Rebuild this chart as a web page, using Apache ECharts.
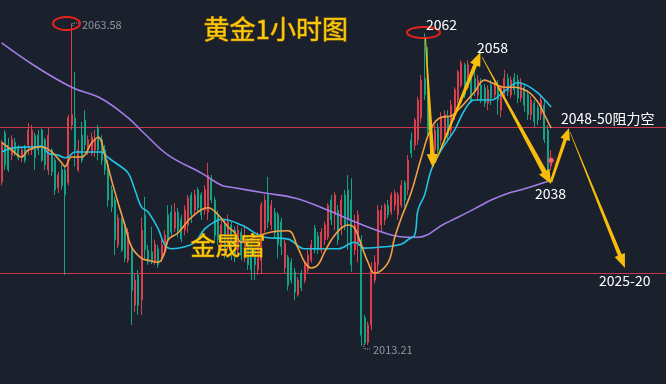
<!DOCTYPE html>
<html><head><meta charset="utf-8">
<script src="https://cdn.jsdelivr.net/npm/echarts@6/dist/echarts.min.js"></script>
<style>html,body{margin:0;padding:0;background:#1b202d;}#c{width:666px;height:384px;}</style>
</head><body><div id="c"></div>
<script>
// ---- data ----
const slotCount = 200;               // hourly slots (incl. empty future area)
const categories = Array.from({length: slotCount}, (_, i) => 'H' + i);
// [open, close, low, high]
const candles = [
[2038.8,2044.9,2038.3,2045.4],[2046.5,2041.5,2040.7,2046.9],[2044.6,2040.7,2040.4,2045.7],[2043.0,2045.4,2042.2,2046.1],
[2045.0,2043.5,2042.9,2045.7],[2044.1,2042.6,2042.2,2044.6],[2042.6,2043.8,2041.9,2044.3],[2044.1,2042.2,2041.8,2044.6],
[2044.6,2046.9,2043.0,2048.0],[2043.8,2046.9,2043.0,2047.7],[2046.1,2042.6,2040.7,2046.5],[2046.1,2043.8,2043.0,2046.9],
[2046.9,2042.2,2041.9,2047.2],[2045.4,2041.5,2040.7,2045.7],[2040.7,2046.1,2039.9,2047.2],[2043.8,2040.4,2039.7,2044.1],
[2042.2,2037.6,2036.8,2042.6],[2037.9,2039.9,2037.1,2040.4],[2040.7,2038.3,2037.6,2041.5],[2040.7,2036.8,2024.3,2041.5],
[2038.7,2048.9,2038.3,2049.3],[2047.7,2049.3,2046.9,2063.58],[2048.8,2043.8,2041.2,2056.0],[2040.7,2043.8,2040.4,2045.4],
[2046.1,2042.2,2041.8,2048.2],[2048.5,2044.6,2043.8,2050.0],[2043.8,2045.4,2043.0,2046.1],[2043.3,2045.8,2042.9,2046.5],
[2043.8,2045.4,2042.7,2046.9],[2047.2,2043.8,2042.2,2047.7],[2045.4,2042.2,2041.5,2046.1],[2043.8,2040.7,2039.9,2044.6],
[2041.5,2036.0,2034.9,2042.2],[2037.6,2034.9,2034.1,2038.3],[2036.0,2029.8,2027.4,2036.5],[2029.0,2033.2,2028.5,2033.7],
[2032.9,2028.2,2027.9,2033.2],[2032.1,2026.9,2026.3,2032.6],[2026.6,2031.0,2026.2,2031.6],[2028.2,2021.9,2016.5,2029.0],
[2019.6,2023.5,2018.5,2024.5],[2024.3,2019.6,2018.1,2025.1],[2020.4,2031.3,2018.1,2033.3],[2033.7,2028.2,2026.8,2036.5],
[2028.2,2026.3,2025.9,2029.0],[2027.9,2026.3,2026.0,2031.8],[2026.3,2029.1,2025.9,2029.8],[2028.4,2025.9,2025.4,2029.0],
[2026.9,2029.0,2026.3,2029.8],[2027.9,2030.5,2027.4,2031.3],[2033.7,2029.8,2029.0,2035.2],[2034.1,2031.0,2030.2,2035.2],
[2031.6,2034.1,2031.0,2035.5],[2034.1,2031.3,2030.2,2034.8],[2033.0,2029.9,2029.4,2033.7],[2031.3,2034.4,2030.5,2035.2],
[2032.1,2036.3,2030.9,2036.8],[2036.8,2033.7,2032.4,2037.2],[2034.4,2036.8,2033.7,2037.6],[2037.6,2034.8,2034.1,2038.0],
[2036.8,2033.7,2032.9,2037.2],[2034.4,2037.6,2033.7,2038.3],[2034.1,2039.9,2032.9,2041.8],[2039.1,2036.0,2035.5,2039.9],
[2036.0,2030.5,2029.3,2036.5],[2033.7,2029.8,2029.0,2034.4],[2029.0,2032.1,2028.2,2032.9],[2032.1,2028.2,2026.9,2032.9],
[2029.0,2032.6,2028.2,2033.7],[2032.1,2029.0,2026.6,2032.6],[2031.3,2027.4,2026.3,2031.9],[2028.2,2031.3,2027.4,2032.1],
[2031.0,2027.4,2026.6,2031.6],[2027.4,2030.5,2026.3,2032.1],[2029.8,2025.9,2025.1,2030.5],[2029.0,2025.1,2023.5,2029.8],
[2028.2,2025.9,2023.5,2029.0],[2025.1,2030.1,2024.3,2031.0],[2026.6,2035.2,2024.6,2035.7],[2031.3,2036.0,2030.9,2036.8],
[2036.8,2032.6,2031.6,2039.6],[2032.1,2035.2,2031.3,2036.0],[2034.0,2030.9,2030.1,2034.8],[2033.7,2029.0,2026.9,2034.1],
[2032.6,2028.7,2027.4,2033.2],[2025.4,2029.3,2024.6,2029.8],[2027.1,2022.7,2021.9,2027.4],[2026.3,2023.5,2023.0,2026.9],
[2024.8,2021.6,2020.4,2025.4],[2021.2,2023.5,2020.9,2024.0],[2024.6,2022.3,2021.8,2025.1],[2023.5,2026.2,2023.0,2026.6],
[2025.1,2027.4,2024.5,2028.2],[2026.6,2029.0,2026.2,2029.8],[2031.6,2028.2,2027.7,2032.1],[2030.4,2028.2,2027.6,2031.0],
[2028.2,2031.0,2027.7,2031.6],[2029.8,2032.1,2029.0,2032.6],[2030.2,2035.2,2029.8,2035.5],[2036.0,2032.9,2032.1,2036.8],
[2033.7,2036.8,2031.3,2037.2],[2034.4,2029.8,2029.0,2035.2],[2032.1,2036.0,2030.5,2036.8],[2036.8,2032.1,2031.3,2037.6],
[2037.6,2032.9,2028.2,2039.9],[2036.0,2025.9,2024.8,2039.4],[2028.2,2032.1,2027.4,2033.7],[2029.0,2033.7,2026.3,2034.4],
[2029.8,2014.9,2013.21,2030.5],[2017.6,2013.7,2013.4,2018.1],[2013.8,2016.5,2013.4,2017.0],[2016.5,2025.1,2015.7,2026.3],
[2023.5,2026.3,2023.0,2027.4],[2025.9,2034.4,2024.8,2035.2],[2032.1,2034.4,2031.0,2035.2],[2032.9,2035.2,2032.1,2035.5],
[2035.2,2033.7,2033.2,2036.0],[2034.1,2036.8,2033.7,2037.2],[2035.2,2037.1,2034.4,2037.6],[2033.7,2036.8,2032.9,2037.2],
[2035.2,2038.3,2034.8,2039.1],[2038.7,2036.0,2034.9,2039.1],[2037.6,2042.2,2036.8,2043.0],[2045.4,2043.3,2042.6,2046.5],
[2044.6,2048.5,2043.8,2048.8],[2045.4,2051.6,2044.6,2052.1],[2048.8,2054.7,2048.0,2055.5],[2055.0,2052.4,2051.6,2062.0],
[2052.4,2046.9,2046.1,2059.9],[2048.5,2043.8,2042.2,2049.3],[2043.8,2046.9,2043.0,2047.7],[2047.2,2043.8,2043.3,2048.0],
[2045.4,2048.8,2044.6,2049.7],[2046.1,2049.3,2045.4,2050.0],[2048.8,2046.1,2045.4,2050.0],[2046.9,2050.8,2046.1,2051.6],
[2049.3,2053.2,2048.5,2053.6],[2051.6,2056.0,2051.1,2056.3],[2053.9,2057.4,2053.6,2057.8],[2057.1,2052.4,2051.9,2057.4],
[2053.5,2057.1,2053.2,2057.8],[2055.5,2051.6,2051.1,2056.0],[2055.0,2052.9,2052.2,2056.3],[2052.4,2054.7,2051.6,2055.5],
[2053.9,2051.6,2051.1,2055.0],[2053.5,2051.1,2050.5,2054.1],[2051.1,2053.2,2050.0,2053.9],[2053.9,2051.9,2050.8,2054.7],
[2052.4,2054.4,2051.6,2055.0],[2053.9,2051.6,2049.3,2054.7],[2050.0,2053.6,2048.9,2053.9],[2052.4,2055.0,2051.6,2056.3],
[2055.0,2052.9,2052.2,2055.7],[2052.4,2054.7,2051.9,2055.3],[2055.0,2053.2,2052.4,2055.8],[2054.7,2051.9,2051.1,2055.5],
[2051.9,2054.3,2051.3,2055.0],[2053.5,2050.8,2049.7,2053.9],[2052.4,2049.3,2048.5,2053.2],[2049.3,2051.6,2048.5,2052.2],
[2051.1,2048.2,2047.4,2051.6],[2050.4,2048.5,2047.7,2050.8],[2049.3,2051.6,2048.5,2052.4],[2050.8,2045.4,2044.9,2051.6],
[2046.9,2039.9,2039.1,2047.7],[2041.3,2042.2,2040.7,2043.8]
];
// moving averages: [slot index, price]
const maFast = [[0,2045.0],[3,2043.8],[6,2042.7],[8,2043.8],[12,2044.3],[15,2043.5],[18,2041.8],[19,2041.2],[21,2042.7],[24,2042.7],
[27,2044.9],[29,2045.8],[31,2043.0],[33,2039.1],[35,2035.5],[37,2032.1],[39,2028.7],[42,2026.9],[44,2026.6],[47,2026.3],[49,2027.9],
[50,2029.8],[53,2030.9],[57,2033.3],[62,2034.8],[65,2033.7],[68,2031.8],[70,2030.9],[72,2029.4],[76,2030.2],[81,2031.0],[86,2031.2],
[89,2028.5],[91,2026.3],[93,2025.4],[95,2025.9],[97,2027.9],[100,2030.5],[104,2032.1],[106,2031.6],[108,2029.0],[110,2026.3],
[112,2024.6],[116,2026.2],[118,2030.1],[120,2033.2],[123,2037.2],[126,2042.6],[129,2047.2],[132,2048.9],[135,2049.1],[137,2050.0],
[139,2051.1],[142,2052.9],[145,2054.7],[148,2054.1],[151,2053.6],[154,2053.6],[158,2052.9],[161,2051.3],[163,2049.3],[165,2047.2]];
const maMid = [[0,2043.5],[3,2044.1],[10,2044.3],[12,2044.4],[14,2043.3],[17,2043.0],[19,2042.6],[20,2042.7],[22,2043.5],[27,2043.5],
[30,2043.5],[32,2042.6],[35,2041.5],[38,2040.2],[40,2037.6],[42,2034.9],[44,2034.1],[47,2031.5],[49,2029.0],[51,2028.4],[55,2028.7],
[58,2029.4],[61,2031.5],[64,2032.6],[66,2033.0],[72,2032.1],[79,2030.2],[86,2029.9],[91,2028.4],[96,2028.4],[101,2028.4],[106,2029.4],
[109,2028.5],[115,2028.7],[120,2029.1],[122,2029.8],[124,2030.5],[125,2034.4],[127,2036.8],[129,2040.7],[132,2043.8],[136,2046.9],
[139,2050.0],[142,2051.6],[147,2051.6],[151,2053.0],[155,2054.3],[158,2053.8],[161,2052.7],[164,2051.1],[165,2050.5]];
const maSlow = [[0,2060.5],[10,2056.9],[21,2053.6],[30,2051.8],[38,2048.8],[43,2046.3],[50,2043.0],[60,2040.2],[66,2038.3],[69,2038.0],
[79,2037.1],[88,2036.3],[98,2034.4],[106,2032.6],[116,2030.7],[122,2030.2],[125,2030.2],[133,2032.3],[137,2033.3],[143,2034.9],
[147,2036.0],[153,2037.2],[156,2037.6],[165,2039.1]];
const levels = [2047.4, 2024.6];

// ---- chart ----
const chart = echarts.init(document.getElementById('c'), null, {renderer: 'canvas'});
const F = '"Noto Sans CJK SC","Noto Sans",sans-serif';
const YEL = '#f8bd0c';
const LEVEL_RED = '#c8384a';

function arrow(x1, y1, x2, y2, w0, w1, hl, hw) {
  const dx = x2 - x1, dy = y2 - y1, L = Math.hypot(dx, dy);
  const ux = dx / L, uy = dy / L, nx = -uy, ny = ux;
  const bx = x2 - ux * hl, by = y2 - uy * hl;
  return {type: 'polygon', z: 100, shape: {points: [
    [x1 + nx * w0 / 2, y1 + ny * w0 / 2], [bx + nx * w1 / 2, by + ny * w1 / 2], [bx + nx * hw / 2, by + ny * hw / 2],
    [x2, y2], [bx - nx * hw / 2, by - ny * hw / 2], [bx - nx * w1 / 2, by - ny * w1 / 2], [x1 - nx * w0 / 2, y1 - ny * w0 / 2]]},
    style: {fill: YEL}};
}
function ellipse(cx, cy, rx, ry) {
  const pts = [];
  for (let k = 0; k < 48; k++) { const a = k / 48 * Math.PI * 2; pts.push([cx + rx * Math.cos(a), cy + ry * Math.sin(a)]); }
  return {type: 'polygon', z: 100, shape: {points: pts}, style: {fill: 'none', stroke: '#e8221c', lineWidth: 2}};
}
function txt(t, left, top, size, fill, extra) {
  return {type: 'text', left, top, z: 101, style: Object.assign({text: t, fill, font: size + 'px ' + F}, extra || {})};
}

const lineBase = {type: 'line', smooth: 0.4, showSymbol: false, symbol: 'none', connectNulls: true, z: 5, silent: true};

chart.setOption({
  backgroundColor: '#1b202d',
  animation: false,
  grid: {left: 0, right: 0, top: 0, bottom: 0},
  xAxis: {type: 'category', data: categories, show: false, boundaryGap: true},
  yAxis: {type: 'value', min: 2007.3, max: 2067.2, show: false, splitLine: {show: false}},
  series: [
    {type: 'candlestick', data: candles, barWidth: 1.5, z: 3,
     itemStyle: {color: '#da3f4e', color0: '#10a386', borderColor: '#da3f4e', borderColor0: '#10a386', borderWidth: 1},
     markPoint: {silent: true, symbol: 'circle', symbolSize: 5, label: {show: false},
       itemStyle: {color: '#ff5f72', shadowBlur: 8, shadowColor: '#ff4060'},
       data: [{coord: [candles.length - 1, candles[candles.length - 1][1]]}]}},
    Object.assign({}, lineBase, {data: maSlow, lineStyle: {color: '#a37de6', width: 1.6}}),
    Object.assign({}, lineBase, {data: maMid, lineStyle: {color: '#22c3e3', width: 1.6}}),
    Object.assign({}, lineBase, {data: maFast, lineStyle: {color: '#f5a043', width: 1.6}})
  ]
});

// price-level lines placed through the y axis scale
const levelLines = levels.map(v => {
  const y = Math.round(chart.convertToPixel({yAxisIndex: 0}, v)) + 0.5;
  return {type: 'line', z: 2, silent: true, shape: {x1: 0, y1: y, x2: 666, y2: y},
          style: {stroke: LEVEL_RED, lineWidth: 1}};
});

chart.setOption({
  graphic: levelLines.concat([
    ellipse(66.5, 23.5, 13.5, 6.5),
    ellipse(423.5, 32.5, 16.5, 5.5),
    {type: 'polyline', z: 100, shape: {points: [[73, 26], [73, 23], [79, 23]]}, style: {stroke: '#8f96a0', lineWidth: 1, lineDash: [1, 1]}},
    {type: 'polyline', z: 100, shape: {points: [[364, 344], [364, 349], [371, 349]]}, style: {stroke: '#8f96a0', lineWidth: 1, lineDash: [1, 1]}},
    txt('2063.58', 82, 19, 11, '#8f96a0'),
    txt('2013.21', 373, 344, 11, '#8f96a0'),
    txt('黄金1小时图', 203, 16, 26, '#fbc90c', {stroke: '#a87600', lineWidth: 1}),
    txt('金晟富', 190, 232, 25, '#fbc90c', {stroke: '#a87600', lineWidth: 1}),
    txt('2062', 426, 18, 14, '#ffffff'),
    txt('2058', 477, 41, 14, '#ffffff'),
    txt('2048-50阻力空', 561, 112, 14, '#ffffff'),
    txt('2038', 535, 187, 14, '#ffffff'),
    txt('2025-20', 599, 274, 14, '#ffffff'),
    arrow(425.5, 38, 433, 168, 1, 4, 14, 11),
    arrow(435, 163, 480.5, 52, 1, 4, 14, 11),
    arrow(482, 57, 551, 184, 0.6, 5, 14, 12),
    arrow(551, 182, 569, 128, 2.5, 3.5, 12, 10),
    arrow(570, 132, 625, 268, 0.6, 4, 14, 11)
  ])
});
</script></body></html>
